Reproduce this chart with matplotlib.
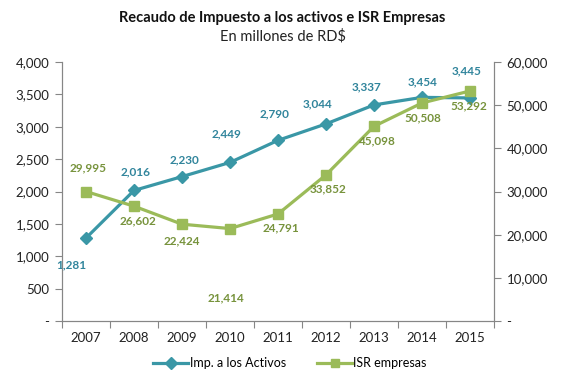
import matplotlib.pyplot as plt
import matplotlib.ticker as mticker
from matplotlib.lines import Line2D

plt.rcParams['font.family'] = ['Lato', 'DejaVu Sans']

years = ['2007', '2008', '2009', '2010', '2011', '2012', '2013', '2014', '2015']
activos = [1281, 2016, 2230, 2449, 2790, 3044, 3337, 3454, 3445]
isr = [29995, 26602, 22424, 21414, 24791, 33852, 45098, 50508, 53292]

# label offsets in pixels (hand placed like the original)
activos_off = [(-15, -27), (2, 19), (2, 17), (-3, 29), (-3, 27), (-8, 20), (-7, 18), (1, 16), (-3, 27)]
isr_off = [(2, 24), (4, -15), (0, -17), (-4, -69), (3, -14), (2, -14), (2, -15), (1, -15), (-1, -15)]

teal = '#3A97A6'
green = '#9BBB59'
teal_txt = '#31859C'
green_txt = '#77933C'
gray = '#868686'

fig = plt.figure(figsize=(5.65, 3.84), dpi=100)
ax = fig.add_axes([62/565, 1-321/384, (494-62)/565, (321-62)/384])
ax2 = ax.twinx()

x = list(range(len(years)))
ax.plot(x, activos, color=teal, lw=2.3, marker='D', ms=6.5, zorder=3)
ax2.plot(x, isr, color=green, lw=2.3, marker='s', ms=6.5, zorder=3)

for i, v in enumerate(activos):
    ax.annotate(f'{v:,}', (i, v), xytext=activos_off[i], textcoords='offset pixels',
                ha='center', va='center', fontsize=8.5, fontweight='bold', color=teal_txt)
for i, v in enumerate(isr):
    ax2.annotate(f'{v:,}', (i, v), xytext=isr_off[i], textcoords='offset pixels',
                 ha='center', va='center', fontsize=8.5, fontweight='bold', color=green_txt)

ax.set_xlim(-0.5, len(years) - 0.5)
ax.set_ylim(0, 4000)
ax2.set_ylim(0, 60000)

fmt = mticker.FuncFormatter(lambda v, p: '-' if v == 0 else f'{int(v):,}')
ax.yaxis.set_major_locator(mticker.MultipleLocator(500))
ax.yaxis.set_major_formatter(fmt)
ax2.yaxis.set_major_locator(mticker.MultipleLocator(10000))
ax2.yaxis.set_major_formatter(fmt)

ax.set_xticks([i - 0.5 for i in range(len(years) + 1)])
ax.set_xticklabels([])
ax.set_xticks(x, minor=True)
ax.set_xticklabels(years, minor=True)
ax.tick_params(axis='x', which='minor', length=0, pad=8, labelsize=9.5, colors='#222222')
ax.tick_params(axis='x', which='major', length=5, color=gray)
ax.tick_params(axis='y', length=5, color=gray, labelsize=9.5, labelcolor='#222222', pad=4)
ax2.tick_params(axis='y', length=5, color=gray, labelsize=9.5, labelcolor='#222222', pad=4)

for a in (ax, ax2):
    a.spines['top'].set_visible(False)
    for s in ('left', 'right', 'bottom'):
        a.spines[s].set_color(gray)
ax2.set_zorder(ax.get_zorder() + 1)
ax2.patch.set_visible(False)

fig.text(0.5, 1-18/384, 'Recaudo de Impuesto a los activos e ISR Empresas',
         ha='center', va='center', fontsize=10.5, fontweight='bold', color='#111111')
fig.text(0.5, 1-36/384, 'En millones de RD$', ha='center', va='center',
         fontsize=10.5, color='#222222')

handles = [Line2D([], [], color=teal, lw=2.3, marker='D', ms=6),
           Line2D([], [], color=green, lw=2.3, marker='s', ms=6)]
fig.legend(handles, ['Imp. a los Activos', 'ISR empresas'], loc='center',
           bbox_to_anchor=(290/565, 1-363/384), ncol=2, frameon=False,
           fontsize=9, handlelength=2.8, handletextpad=0.1, columnspacing=2.5)

fig.savefig('out.png', dpi=100)
